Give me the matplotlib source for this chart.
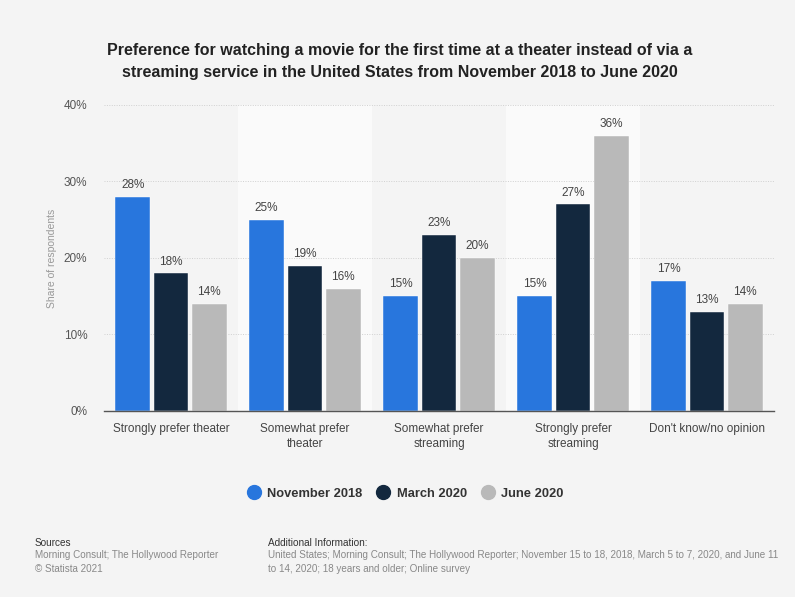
import matplotlib
matplotlib.use("Agg")
import matplotlib.pyplot as plt
from matplotlib.lines import Line2D
import numpy as np

plt.rcParams['font.family'] = ['Liberation Sans', 'DejaVu Sans']

categories = ["Strongly prefer theater", "Somewhat prefer\ntheater", "Somewhat prefer\nstreaming",
              "Strongly prefer\nstreaming", "Don't know/no opinion"]
series_names = ["November 2018", "March 2020", "June 2020"]
nov_2018 = [28, 25, 15, 15, 17]
mar_2020 = [18, 19, 23, 27, 13]
jun_2020 = [14, 16, 20, 36, 14]
y_ticks = [0, 10, 20, 30, 40]
colors = ["#2876dd", "#13283e", "#b9b9b9"]

title = ("Preference for watching a movie for the first time at a theater instead of via a\n"
         "streaming service in the United States from November 2018 to June 2020")

bg = "#f4f4f4"
fig = plt.figure(figsize=(7.95, 5.97), dpi=100, facecolor=bg)
ax = fig.add_axes([0.1308, 0.3116, 0.8428, 0.5126])
ax.set_facecolor(bg)

x = np.arange(len(categories))
# alternating lighter bands behind every second category
for i in x:
    if i % 2 == 1:
        ax.axvspan(i - 0.5, i + 0.5, color="#fafafa", zorder=0, lw=0)

width = 0.259
step = 0.286
for k, vals in enumerate([nov_2018, mar_2020, jun_2020]):
    pos = x + (k - 1) * step
    bars = ax.bar(pos, vals, width=width, color=colors[k], zorder=3,
                  edgecolor="#ffffff", linewidth=0.3)
    for b, v in zip(bars, vals):
        ax.text(b.get_x() + b.get_width() / 2, v + 0.75, f"{v}%", ha="center", va="bottom",
                fontsize=8.5, color="#444444", zorder=4)

ax.set_xlim(-0.5, len(categories) - 0.5)
ax.set_ylim(0, 40)
ax.set_yticks(y_ticks)
ax.set_yticklabels([f"{t}%" for t in y_ticks], fontsize=8.5, color="#555555")
ax.set_xticks(x)
ax.set_xticklabels(categories, fontsize=8.5, color="#444444", linespacing=1.25)
ax.tick_params(axis="both", length=0)
ax.tick_params(axis="x", pad=9)
ax.tick_params(axis="y", pad=12)
for yv in y_ticks[1:]:
    ax.axhline(yv, color="#d0d0d0", lw=0.7, ls=(0, (1, 1.5)), zorder=1)
for s in ["top", "right", "left"]:
    ax.spines[s].set_visible(False)
ax.spines["bottom"].set_color("#555555")
ax.spines["bottom"].set_linewidth(1.0)
ax.spines["bottom"].set_zorder(5)
ax.set_ylabel("Share of respondents", fontsize=7.5, color="#999999", labelpad=5)

fig.text(0.503, 0.897, title, ha="center", va="center", fontsize=11.5, fontweight="bold",
         color="#222222", linespacing=1.6)

handles = [Line2D([0], [0], marker="o", ls="", markersize=10, markerfacecolor=c,
                  markeredgecolor=c) for c in colors]
leg = fig.legend(handles, series_names, loc="center", bbox_to_anchor=(0.51, 0.173), ncol=3,
                 frameon=False, fontsize=9.3, handletextpad=0.55, columnspacing=1.1,
                 handlelength=1.0)
for t in leg.get_texts():
    t.set_fontweight("bold")
    t.set_color("#333333")

fig.text(0.044, 0.090, "Sources", fontsize=7.2, color="#333333", va="center")
fig.text(0.044, 0.078, "Morning Consult; The Hollywood Reporter\n\u00a9 Statista 2021", fontsize=7.1,
         color="#888888", va="top", linespacing=1.4)
fig.text(0.337, 0.090, "Additional Information:", fontsize=7.2, color="#333333", va="center")
fig.text(0.337, 0.078,
         "United States; Morning Consult; The Hollywood Reporter; November 15 to 18, 2018, March 5 to 7, 2020, and June 11\n"
         "to 14, 2020; 18 years and older; Online survey",
         fontsize=7.1, color="#888888", va="top", linespacing=1.4)

fig.savefig("out.png", dpi=100, facecolor=bg)
